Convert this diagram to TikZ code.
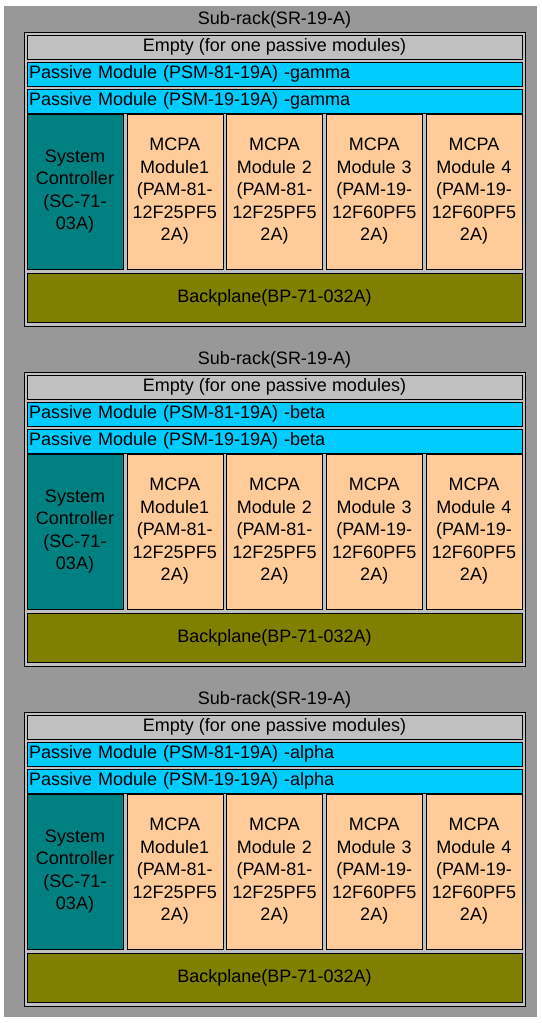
\documentclass[tikz,border=0pt]{standalone}
\usepackage{fontspec}
\setmainfont{Liberation Sans}
\usepackage{tikz}
\usetikzlibrary{positioning}
\definecolor{bggray}{HTML}{989898}
\definecolor{framegray}{HTML}{C0C0C0}
\definecolor{passivecyan}{HTML}{00CCFF}
\definecolor{systeal}{HTML}{008080}
\definecolor{mcpapeach}{HTML}{FFCC99}
\definecolor{bpolive}{HTML}{808000}

\begin{document}
\begin{tikzpicture}
\tikzstyle{every node}=[font=\fontsize{18}{22.5}\selectfont, outer sep=0pt]
\tikzstyle{rack} = [draw, thick, minimum width=501pt, minimum height=294pt, fill=framegray, inner sep=0pt]
\tikzstyle{emptyslot} = [draw, minimum width=495pt, minimum height=24pt, fill=framegray, inner sep=0pt]
\tikzstyle{passive} = [draw, minimum height=24pt, text width=491pt, inner sep=2pt, align=left, fill=passivecyan]
\tikzstyle{controller} = [draw, minimum width=96pt, minimum height=155pt, text width=90pt, inner sep=3pt, align=center, fill=systeal]
\tikzstyle{mcpa} = [controller, fill=mcpapeach]
\tikzstyle{backplane} = [draw, minimum width=495pt, minimum height=49pt, inner sep=0pt, fill=bpolive]

\useasboundingbox (0,0) rectangle (541pt,-1023pt);
\fill [bggray] (4pt,-6pt) rectangle (537pt,-1017pt);

%draw sub-racks
%%gamma
\node [rack, name = gamma, label={[name=gammatitle]above:Sub-rack(SR-19-A)}] at (274.5pt,-179pt) {};
\node (gammaempty)[emptyslot, below = 3pt of gamma.north]{Empty (for one passive modules)};
\node (gammapsm81)[passive, below = 3pt of gammaempty]{Passive Module (PSM-81-19A) -gamma};
\node (gammapsm19)[passive, below = 3pt of gammapsm81]{Passive Module (PSM-19-19A) -gamma};
\node (gammasc)[controller, below right = 1pt and 0pt of gammapsm19.south west]{System\\Controller\\(SC-71-\\03A)};
\node (gammapam1)[mcpa, right = 3.75pt of gammasc]{MCPA\\Module1\\(PAM-81-\\12F25PF5\\2A)};
\node (gammapam2)[mcpa, right = 3.75pt of gammapam1]{MCPA\\Module 2\\(PAM-81-\\12F25PF5\\2A)};
\node (gammapam3)[mcpa, right = 3.75pt of gammapam2]{MCPA\\Module 3\\(PAM-19-\\12F60PF5\\2A)};
\node (gammapam4)[mcpa, right = 3.75pt of gammapam3]{MCPA\\Module 4\\(PAM-19-\\12F60PF5\\2A)};
\node (gammabp)[backplane, below right = 4pt and 0pt of gammasc.south west]{Backplane(BP-71-032A)};

%%beta
\node [rack, name = beta, below = 46pt of gamma, label={[name=betatitle]above:Sub-rack(SR-19-A)}] {};
\node (betaempty)[emptyslot, below = 3pt of beta.north]{Empty (for one passive modules)};
\node (betapsm81)[passive, below = 3pt of betaempty]{Passive Module (PSM-81-19A) -beta};
\node (betapsm19)[passive, below = 3pt of betapsm81]{Passive Module (PSM-19-19A) -beta};
\node (betasc)[controller, below right = 1pt and 0pt of betapsm19.south west]{System\\Controller\\(SC-71-\\03A)};
\node (betapam1)[mcpa, right = 3.75pt of betasc]{MCPA\\Module1\\(PAM-81-\\12F25PF5\\2A)};
\node (betapam2)[mcpa, right = 3.75pt of betapam1]{MCPA\\Module 2\\(PAM-81-\\12F25PF5\\2A)};
\node (betapam3)[mcpa, right = 3.75pt of betapam2]{MCPA\\Module 3\\(PAM-19-\\12F60PF5\\2A)};
\node (betapam4)[mcpa, right = 3.75pt of betapam3]{MCPA\\Module 4\\(PAM-19-\\12F60PF5\\2A)};
\node (betabp)[backplane, below right = 4pt and 0pt of betasc.south west]{Backplane(BP-71-032A)};

%%alpha
\node [rack, name = alpha, below = 46pt of beta, label={[name=alphatitle]above:Sub-rack(SR-19-A)}] {};
\node (alphaempty)[emptyslot, below = 3pt of alpha.north]{Empty (for one passive modules)};
\node (alphapsm81)[passive, below = 3pt of alphaempty]{Passive Module (PSM-81-19A) -alpha};
\node (alphapsm19)[passive, below = 3pt of alphapsm81]{Passive Module (PSM-19-19A) -alpha};
\node (alphasc)[controller, below right = 1pt and 0pt of alphapsm19.south west]{System\\Controller\\(SC-71-\\03A)};
\node (alphapam1)[mcpa, right = 3.75pt of alphasc]{MCPA\\Module1\\(PAM-81-\\12F25PF5\\2A)};
\node (alphapam2)[mcpa, right = 3.75pt of alphapam1]{MCPA\\Module 2\\(PAM-81-\\12F25PF5\\2A)};
\node (alphapam3)[mcpa, right = 3.75pt of alphapam2]{MCPA\\Module 3\\(PAM-19-\\12F60PF5\\2A)};
\node (alphapam4)[mcpa, right = 3.75pt of alphapam3]{MCPA\\Module 4\\(PAM-19-\\12F60PF5\\2A)};
\node (alphabp)[backplane, below right = 4pt and 0pt of alphasc.south west]{Backplane(BP-71-032A)};

\end{tikzpicture}
\end{document}
